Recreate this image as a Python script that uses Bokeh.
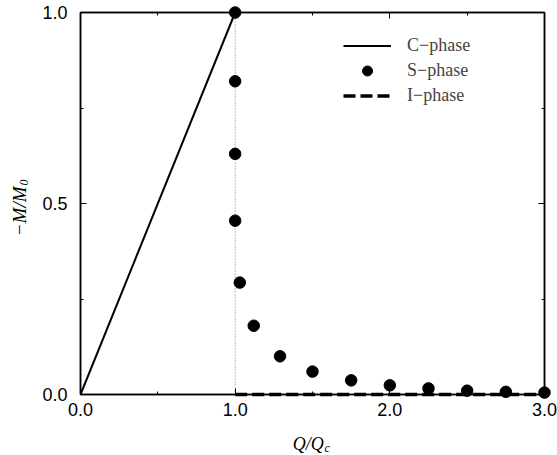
import math
from bokeh.plotting import figure
from bokeh.layouts import row, column
from bokeh.models import (Range1d, FixedTicker, PrintfTickFormatter, LinearAxis,
                          Label, Legend, LegendItem, CustomLabelingPolicy)
from bokeh.embed import file_html
from bokeh.resources import INLINE

# ---- data ----
c_x = [0.0, 1.0]
c_y = [0.0, 1.0]
s_x = [1.0, 1.0, 1.0, 1.0, 1.03, 1.12, 1.29, 1.5, 1.75, 2.0, 2.25, 2.5, 2.75, 3.0]
s_y = [1.0, 0.82, 0.63, 0.455, 0.293, 0.18, 0.10, 0.06, 0.037, 0.024, 0.016, 0.010, 0.007, 0.005]
i_x = [1.0, 3.0]
i_y = [0.0, 0.0]
qc_x = [1.0, 1.0]
qc_y = [0.0, 1.0]
x_ticks = [0, 1, 2, 3]
x_minor = [0.5, 1.5, 2.5]
y_ticks = [0, 0.5, 1.0]
y_minor = [0.25, 0.75]
x_label_main, x_label_sub = "Q/Q", "c"
y_label_main, y_label_sub = "\u2212M/M", "0"

SANS = "Liberation Sans"
SERIF = "Liberation Serif"

LEFT_W = 36
MAIN_W = 557 - LEFT_W
MAIN_H = 422
BOT_H = 455 - MAIN_H

p = figure(width=MAIN_W, height=MAIN_H, output_backend="svg", toolbar_location=None,
           x_range=Range1d(0, 3), y_range=Range1d(0, 1),
           min_border_left=80 - LEFT_W, min_border_right=13, min_border_top=12,
           min_border_bottom=MAIN_H - 394)
p.xgrid.visible = False
p.ygrid.visible = False
p.outline_line_color = "black"
p.outline_line_width = 1.5
p.background_fill_color = "white"
p.border_fill_color = "white"

xt = FixedTicker(ticks=x_ticks, minor_ticks=x_minor)
yt = FixedTicker(ticks=y_ticks, minor_ticks=y_minor)

def style(ax, ticker, show_labels):
    ax.ticker = ticker
    ax.formatter = PrintfTickFormatter(format="%.1f")
    ax.axis_line_color = "black"
    ax.axis_line_width = 1.5
    ax.major_tick_in = 6
    ax.major_tick_out = 0
    ax.minor_tick_in = 3
    ax.minor_tick_out = 0
    ax.major_tick_line_width = 1
    ax.minor_tick_line_width = 1
    ax.major_label_text_font = SANS
    ax.major_label_text_color = "black"
    if show_labels:
        ax.major_label_text_font_size = "18px"
    else:
        ax.major_label_text_font_size = "1px"
        ax.major_label_standoff = 0
        ax.major_label_policy = CustomLabelingPolicy(code="return []")

style(p.xaxis[0], xt, True)
style(p.yaxis[0], yt, True)
p.xaxis[0].major_label_standoff = 8
p.yaxis[0].major_label_standoff = 13

top = LinearAxis()
style(top, xt, False)
p.add_layout(top, "above")
right = LinearAxis()
style(right, yt, False)
p.add_layout(right, "right")

# ---- glyphs ----
p.line(qc_x, qc_y, line_color="#777777", line_width=1, line_dash="1 2")
rc = p.line(c_x, c_y, line_color="black", line_width=2)
ri = p.line(i_x, i_y, line_color="black", line_width=3.5, line_dash="12 5", level="overlay")
rs = p.scatter(s_x, s_y, size=11.5, fill_color="black", line_color="black", level="overlay")

legend = Legend(items=[LegendItem(label="C\u2212phase", renderers=[rc]),
                       LegendItem(label="S\u2212phase", renderers=[rs]),
                       LegendItem(label="I\u2212phase", renderers=[ri])],
                location=(263, 286))
legend.border_line_color = None
legend.background_fill_alpha = 0
legend.padding = 0
legend.margin = 0
legend.spacing = 0
legend.glyph_width = 48
legend.glyph_height = 25
legend.label_height = 25
legend.label_standoff = 16
legend.label_text_font = SERIF
legend.label_text_font_size = "18px"
p.add_layout(legend, "center")

# ---- axis-title strips (real text, pixel ranges) ----
def strip(w, h):
    f = figure(width=w, height=h, output_backend="svg", toolbar_location=None,
               x_range=Range1d(0, w), y_range=Range1d(0, h),
               x_axis_type=None, y_axis_type=None,
               min_border=0, min_border_left=0, min_border_right=0,
               min_border_top=0, min_border_bottom=0)
    f.xgrid.visible = False
    f.ygrid.visible = False
    f.outline_line_color = None
    f.background_fill_color = "white"
    f.border_fill_color = "white"
    return f

left = strip(LEFT_W, 455)
left.add_layout(Label(x=19, y=455 - 186, text=y_label_main, angle=math.pi / 2,
                      text_align="right", text_baseline="alphabetic", text_font=SERIF,
                      text_font_style="italic", text_font_size="19px", text_color="black"))
left.add_layout(Label(x=23, y=455 - 185, text=y_label_sub, angle=math.pi / 2,
                      text_align="left", text_baseline="alphabetic", text_font=SERIF,
                      text_font_style="italic", text_font_size="12px", text_color="black"))

bottom = strip(MAIN_W, BOT_H)
bottom.add_layout(Label(x=309 - LEFT_W, y=455 - 443, text=x_label_main, text_align="right",
                        text_baseline="alphabetic", text_font=SERIF, text_font_style="italic",
                        text_font_size="18px", text_color="black"))
bottom.add_layout(Label(x=310 - LEFT_W, y=455 - 447, text=x_label_sub, text_align="left",
                        text_baseline="alphabetic", text_font=SERIF, text_font_style="italic",
                        text_font_size="12px", text_color="black"))

layout = row(left, column(p, bottom, spacing=0), spacing=0)

open("out.html", "w").write(file_html(layout, INLINE))
